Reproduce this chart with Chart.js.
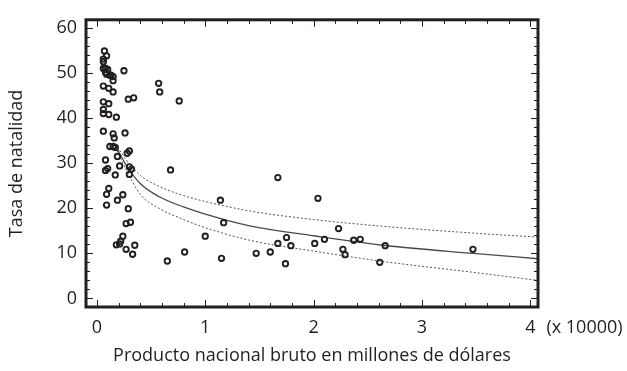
<!DOCTYPE html>
<html>
<head>
<meta charset="utf-8">
<script src="https://cdn.jsdelivr.net/npm/chart.js@4"></script>
<style>
  html,body{margin:0;padding:0;background:#fff;}
  #wrap{width:627px;height:371px;}
</style>
</head>
<body>
<div id="wrap"><canvas id="grafico" width="627" height="371"></canvas></div>
<script>
// Datos (PNB en decenas de miles de millones, tasa de natalidad)
const pnbX = [0.07,0.09,0.06,0.06,0.06,0.08,0.10,0.08,0.09,0.12,0.15,0.13,0.15,
  0.06,0.11,0.15,0.06,0.11,0.06,0.06,0.11,0.18,0.06,0.15,0.16,0.26,0.12,0.15,0.17,
  0.25,0.29,0.34,0.57,0.58,0.76,
  0.30,0.28,0.08,0.19,0.08,0.10,0.21,0.30,0.32,0.30,0.17,0.11,0.09,0.24,0.19,0.09,
  0.29,0.27,0.31,0.24,0.22,0.21,0.18,0.35,0.27,0.33,
  0.68,0.65,0.81,1.00,1.14,1.17,1.15,1.47,
  1.60,1.67,1.67,1.75,1.79,1.74,2.01,2.04,2.10,2.23,2.27,2.29,2.37,2.43,2.61,2.66,3.47];
const natalidadY = [54.9,53.8,53.1,52.5,51.0,51.0,50.8,50.1,49.7,49.5,49.2,49.5,48.3,
  47.1,46.6,45.8,43.6,43.2,41.9,41.0,40.8,40.2,37.1,36.5,35.6,36.7,33.7,33.7,33.5,
  50.5,44.2,44.5,47.7,45.8,43.8,
  32.7,32.2,30.7,31.5,28.4,28.8,29.4,29.2,28.7,27.5,27.4,24.4,23.1,23.0,21.8,20.7,
  19.9,16.6,16.9,13.8,12.7,12.1,11.9,11.8,10.9,9.8,
  28.5,8.3,10.3,13.8,21.8,16.8,8.9,10.0,
  10.3,26.8,12.2,13.5,11.7,7.7,12.2,22.2,13.1,15.5,10.9,9.7,12.9,13.1,8.0,11.7,10.9];

// Curva ajustada y limites
const curvaX  = [0.17,0.27,0.40,0.58,0.80,1.00,1.41,2.00,2.64,3.47,4.07];
const ajusteY = [34.0,29.6,25.5,22.5,20.3,18.7,16.1,13.9,11.8,10.0,8.8];
const superY  = [34.3,30.8,27.3,24.8,22.8,21.5,19.4,17.5,16.0,14.5,13.6];
const inferY  = [33.6,28.6,23.1,19.9,17.5,15.7,12.9,10.5,8.2,5.8,4.0];

// Ticks
const xTicks = [0,1,2,3,4];
const yTicks = [0,10,20,30,40,50,60];

const tinta = "#231f20";
const fuente = "'Open Sans', 'Noto Sans', sans-serif";

const puntos = pnbX.map((x,i)=>({x, y: natalidadY[i]}));
const serie = arr => curvaX.map((x,i)=>({x, y: arr[i]}));

// Marco y ticks hacia adentro
const marco = {
  id: "marco",
  afterDatasetsDraw(chart){
    const {ctx, chartArea: a, scales:{x, y}} = chart;
    ctx.save();
    ctx.strokeStyle = tinta;
    ctx.lineWidth = 1;
    ctx.beginPath();
    for(let v = 0; v <= 4.001; v += 0.2){
      const px = Math.round(x.getPixelForValue(v)) + 0.5;
      const mayor = Math.abs(v - Math.round(v)) < 0.01;
      const l = mayor ? 7 : 4;
      ctx.moveTo(px, a.bottom); ctx.lineTo(px, a.bottom - l);
      ctx.moveTo(px, a.top); ctx.lineTo(px, a.top + l);
    }
    for(let v = 0; v <= 60; v += 2){
      const py = Math.round(y.getPixelForValue(v)) + 0.5;
      const l = (v % 10 === 0) ? 7 : 4;
      ctx.moveTo(a.left, py); ctx.lineTo(a.left + l, py);
      ctx.moveTo(a.right, py); ctx.lineTo(a.right - l, py);
    }
    ctx.stroke();
    ctx.lineWidth = 3;
    ctx.strokeRect(a.left, a.top, a.right - a.left, a.bottom - a.top);
    // factor de escala
    ctx.fillStyle = tinta;
    ctx.font = "18px " + fuente;
    ctx.textBaseline = "middle";
    ctx.textAlign = "left";
    ctx.fillText("(x 10000)", x.getPixelForValue(4) + 16, 328);
    ctx.restore();
  }
};

new Chart(document.getElementById("grafico"), {
  type: "scatter",
  data: {
    datasets: [
      { label: "datos", data: puntos, pointStyle: "circle", pointRadius: 2.7,
        borderColor: tinta, backgroundColor: "rgba(0,0,0,0)", borderWidth: 1.9 },
      { label: "ajuste", data: serie(ajusteY), showLine: true, pointRadius: 0,
        borderColor: "#4a4a4a", borderWidth: 1.3, cubicInterpolationMode: "monotone" },
      { label: "superior", data: serie(superY), showLine: true, pointRadius: 0,
        borderColor: "#555", borderWidth: 1, borderDash: [2,2], cubicInterpolationMode: "monotone" },
      { label: "inferior", data: serie(inferY), showLine: true, pointRadius: 0,
        borderColor: "#555", borderWidth: 1, borderDash: [2,2], cubicInterpolationMode: "monotone" }
    ]
  },
  options: {
    responsive: false,
    animation: false,
    layout: { padding: { top: 12, right: 89, left: 0, bottom: 0 } },
    plugins: { legend: { display: false }, tooltip: { enabled: false } },
    scales: {
      x: {
        type: "linear", min: -0.1, max: 4.07,
        afterBuildTicks: s => { s.ticks = xTicks.map(v=>({value:v})); },
        afterFit: s => { s.height = 64; },
        grid: { display: false, drawTicks: false },
        border: { display: false },
        ticks: { color: tinta, padding: 10, font: { family: fuente, size: 18 }, maxRotation: 0 },
        title: { display: true, text: "Producto nacional bruto en millones de dólares",
          color: tinta, font: { family: fuente, size: 18 }, padding: { top: 4, bottom: 4 } }
      },
      y: {
        type: "linear", min: -1.9, max: 61.8,
        afterBuildTicks: s => { s.ticks = yTicks.map(v=>({value:v})); },
        afterFit: s => { s.width = 86; },
        grid: { display: false, drawTicks: false },
        border: { display: false },
        ticks: { color: tinta, padding: 9, font: { family: fuente, size: 18 } },
        title: { display: true, text: "Tasa de natalidad",
          color: tinta, font: { family: fuente, size: 18 }, padding: { top: 6, bottom: 4 } }
      }
    }
  },
  plugins: [marco]
});
</script>
</body>
</html>
